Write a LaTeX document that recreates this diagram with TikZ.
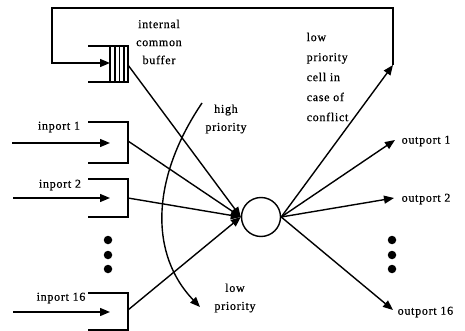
\documentclass[tikz,border=0pt]{standalone}
\usepackage{fontspec}
\setmainfont[LetterSpace=6,FakeBold=0.6]{Liberation Serif}
\usetikzlibrary{arrows.meta}
\begin{document}
\begin{tikzpicture}[x=1pt,y=-1pt,line width=1.4pt,
  tip/.style={-{Triangle[length=10pt,width=8pt]}},
  lbl/.style={font=\fontsize{12}{14}\selectfont,inner sep=0pt},
  dot/.style={circle,fill=black,inner sep=0pt,minimum size=8.5pt}]
\useasboundingbox (0,0) rectangle (465,331);
% switch
\node[circle,draw,minimum size=39pt,inner sep=0pt] (sw) at (261,217) {};
% buffer
\draw (88,46) -- (128,46) -- (128,82) -- (88,82);
\draw (110,46) -- (110,82);
\draw (115,46) -- (115,82);
\draw (119.5,46) -- (119.5,82);
\draw (124,46) -- (124,82);
\coordinate (buf) at (128,65);
\coordinate (bufin) at (110,63);
% inport boxes
\draw (88,122) -- (128,122) -- (128,163) -- (88,163);
\draw (88,179) -- (128,179) -- (128,217) -- (88,217);
\draw (88,293) -- (128,293) -- (128,330) -- (88,330);
\coordinate (in1) at (128,141);
\coordinate (in2) at (128,198);
\coordinate (in16) at (128,310);
\coordinate (s1) at (12,143);  \coordinate (t1) at (110,143);
\coordinate (s2) at (13,198);  \coordinate (t2) at (110,198);
\coordinate (s16) at (13,312); \coordinate (t16) at (110,312);
\draw[tip] (s1) -- (t1);
\draw[tip] (s2) -- (t2);
\draw[tip] (s16) -- (t16);
% inputs to switch
\draw[tip] (buf) -- (sw.west);
\draw[tip] (in1) -- (sw.west);
\draw[tip] (in2) -- (sw.west);
\draw[tip] (in16) -- (sw.west);
% outputs
\coordinate (lp) at (393,65);
\coordinate (o1) at (395,140);
\coordinate (o2) at (394,198);
\coordinate (o16) at (393,310);
\draw[tip] (sw.east) -- (lp);
\draw[tip] (sw.east) -- (o1);
\draw[tip] (sw.east) -- (o2);
\draw[tip] (sw.east) -- (o16);
% feedback
\draw[tip] (lp) -- (393,8) -- (52,8) |- (bufin);
% priority curve
\coordinate (hp) at (202,103);
\coordinate (lw) at (200,307);
\draw[tip] (hp) .. controls (150,180) and (150,255) .. (lw);
% dots
\node[dot] (d1) at (108,240) {};
\node[dot] (d2) at (108,255) {};
\node[dot] (d3) at (108,269) {};
\node[dot] (e1) at (392,240) {};
\node[dot] (e2) at (392,255) {};
\node[dot] (e3) at (392,269) {};
% labels
\node[lbl,align=center] (lb) at (159,42) {internal\\[4pt]common\\[4pt]buffer};
\node[lbl,align=center] (lh) at (226,119) {high\\[4pt]priority};
\node[lbl,align=center] (ll) at (235,298) {low\\[4pt]priority};
\node[lbl,align=left,anchor=west] (lc) at (306,77) {low\\[6pt]priority\\[6pt]cell in\\[6pt]case of\\[6pt]conflict};
\node[lbl] (li1) at (59,127) {inport 1};
\node[lbl] (li2) at (60,185) {inport 2};
\node[lbl] (li16) at (61,298) {inport 16};
\node[lbl,anchor=west] (lo1) at (401,141) {outport 1};
\node[lbl,anchor=west] (lo2) at (401,199) {outport 2};
\node[lbl,anchor=west] (lo16) at (397,312) {outport 16};
\end{tikzpicture}
\end{document}
